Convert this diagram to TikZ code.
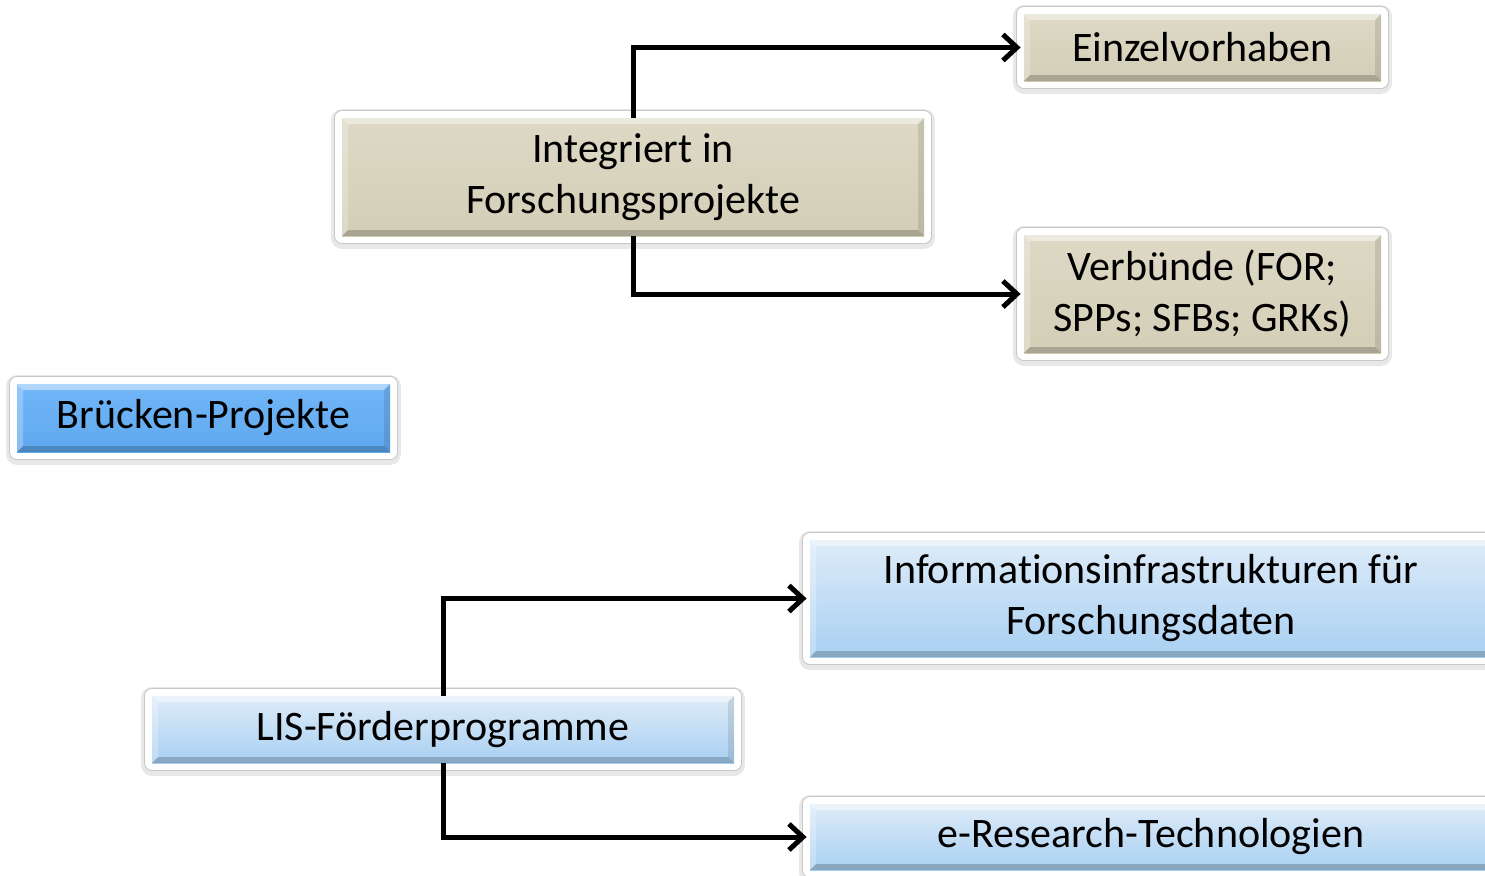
\documentclass[tikz,border=0pt]{standalone}
\usepackage{fontspec}
\setmainfont{Carlito}[Ligatures={NoCommon,NoContextual},RawFeature={-liga;-clig;-dlig}]
\usepackage{xcolor}
\usetikzlibrary{arrows.meta}
\definecolor{tanhi}{HTML}{DDD9C5}
\definecolor{tanlo}{HTML}{D3CEB6}
\definecolor{skyhi}{HTML}{DDEBF8}
\definecolor{skylo}{HTML}{A9D0F2}
\definecolor{bluehi}{HTML}{70B6F8}
\definecolor{bluelo}{HTML}{60A8EE}
\tikzset{
  % --- raised edge inside every box ------------------------------------------
  bevel/.style={path picture={
      \path (path picture bounding box.north west) coordinate (bnw)
            (path picture bounding box.north east) coordinate (bne)
            (path picture bounding box.south west) coordinate (bsw)
            (path picture bounding box.south east) coordinate (bse);
      \fill[white,opacity=.45] (bnw) -- (bne) -- ([shift={(-3pt,-3pt)}]bne)
            -- ([shift={(3pt,-3pt)}]bnw) -- cycle;
      \fill[white,opacity=.25] (bnw) -- (bsw) -- ([shift={(3pt,3pt)}]bsw)
            -- ([shift={(3pt,-3pt)}]bnw) -- cycle;
      \fill[black,opacity=.20] (bsw) -- (bse) -- ([shift={(-3pt,3pt)}]bse)
            -- ([shift={(3pt,3pt)}]bsw) -- cycle;
      \fill[black,opacity=.10] (bne) -- (bse) -- ([shift={(-3pt,3pt)}]bse)
            -- ([shift={(-3pt,-3pt)}]bne) -- cycle;
  }},
  % --- boxes with a white frame ------------------------------------------------
  box/.style={rectangle,inner sep=0pt,align=center,
              font=\fontsize{21}{25.5}\selectfont,
              preaction={draw=black!9,line width=11pt,line join=round,
                         transform canvas={yshift=-1pt}},
              preaction={draw=black!22,line width=8pt,line join=round},
              preaction={draw=white,line width=7pt,line join=round},
              bevel},
  tanbox/.style={box,top color=tanhi,bottom color=tanlo},
  skybox/.style={box,top color=skyhi,bottom color=skylo},
  bluebox/.style={box,top color=bluehi,bottom color=bluelo},
  % --- connectors --------------------------------------------------------------
  link/.style={line width=2.5pt,-{Straight Barb[length=7pt,width=13pt]},
               shorten >=1.5pt},
}

\begin{document}
\begin{tikzpicture}[x=0.5pt, y=-0.5pt]
  \clip (0,0) rectangle (1485,875);

  \node[tanbox,minimum width=178.5pt,minimum height=33.5pt] (einzel) at (1202.5,47.5) {Einzelvorhaben};
  \node[tanbox,minimum width=291pt,minimum height=59pt]     (integ)  at (633,177)     {Integriert in\\Forschungsprojekte};
  \node[tanbox,minimum width=178.5pt,minimum height=59pt]   (verbund) at (1202.5,294) {Verbünde (FOR;\\SPPs; SFBs; GRKs)};

  \node[bluebox,minimum width=186.5pt,minimum height=34pt] (bruecke) at (203.5,418) {Brücken-Projekte};

  \node[skybox,minimum width=341pt,minimum height=58.5pt] (infra) at (1151,598.5) {Informationsinfrastrukturen für\\Forschungsdaten};
  \node[skybox,minimum width=291pt,minimum height=33.5pt] (lis)   at (443,729.5)  {LIS-Förderprogramme};
  \node[skybox,minimum width=341pt,minimum height=33pt]   (eres)  at (1151,837)   {e-Research-Technologien};

  \draw[link] (integ.north) |- (einzel.west);
  \draw[link] (integ.south) |- (verbund.west);
  \draw[link] (lis.north) |- (infra.west);
  \draw[link] (lis.south) |- (eres.west);
\end{tikzpicture}
\end{document}
